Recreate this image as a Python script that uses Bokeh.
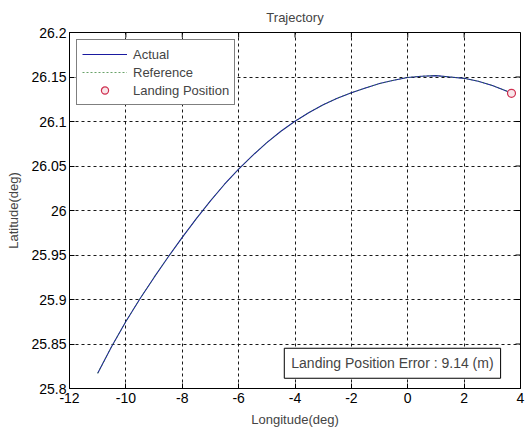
import math
from bokeh.plotting import figure
from bokeh.models import (Range1d, FixedTicker, Legend, LegendItem, Label, Title)
from bokeh.embed import file_html
from bokeh.resources import INLINE

# ---- data ----
actual_lon = [-11.0, -10.5, -10.0, -9.5, -9.0, -8.5, -8.0, -7.5, -7.0, -6.5, -6.0,
              -5.5, -5.0, -4.5, -4.0, -3.5, -3.0, -2.5, -2.0, -1.5, -1.0, -0.5,
              0.0, 0.5, 1.0, 1.5, 2.0, 2.5, 3.0, 3.5, 3.68]
actual_lat = [25.817, 25.8475, 25.8753, 25.9008, 25.9248, 25.9478, 25.9698, 25.9908,
              26.0108, 26.0295, 26.0465, 26.0620, 26.0763, 26.0890, 26.1003, 26.1102,
              26.1188, 26.1262, 26.1323, 26.1377, 26.1426, 26.1464, 26.1495, 26.1509,
              26.1515, 26.1500, 26.1485, 26.1453, 26.1405, 26.1343, 26.1317]
reference_lon = list(actual_lon)
reference_lat = list(actual_lat)
landing_lon = [3.68]
landing_lat = [26.1317]

x_ticks = [-12, -10, -8, -6, -4, -2, 0, 2, 4]
x_tick_labels = {-12: "-12", -10: "-10", -8: "-8", -6: "-6", -4: "-4", -2: "-2",
                 0: "0", 2: "2", 4: "4"}
y_ticks = [25.8, 25.85, 25.9, 25.95, 26.0, 26.05, 26.1, 26.15, 26.2]
y_tick_labels = {25.8: "25.8", 25.85: "25.85", 25.9: "25.9", 25.95: "25.95",
                 26.0: "26", 26.05: "26.05", 26.1: "26.1", 26.15: "26.15", 26.2: "26.2"}
error_text = "Landing Position Error : 9.14 (m)"

FONT = "Liberation Sans"

p = figure(width=527, height=430, output_backend="svg", toolbar_location=None,
           x_range=Range1d(x_ticks[0], x_ticks[-1]),
           y_range=Range1d(y_ticks[0], y_ticks[-1]),
           min_border_left=69, min_border_right=7, min_border_top=31,
           min_border_bottom=42)
p.background_fill_color = "white"
p.border_fill_color = "white"
p.outline_line_color = "black"
p.outline_line_width = 1

p.title = Title(text="Trajectory", align="center", text_font=FONT,
                text_font_size="13px", text_font_style="normal", offset=0,
                standoff=15)

for ax in p.xaxis + p.yaxis:
    ax.major_label_text_font = FONT
    ax.major_label_text_font_size = "14px"
    ax.axis_label_text_font = FONT
    ax.axis_label_text_font_size = "13px"
    ax.axis_label_text_font_style = "normal"
    ax.major_tick_in = 5
    ax.major_tick_out = 0
    ax.minor_tick_in = 0
    ax.minor_tick_out = 0
    ax.axis_line_color = "black"
    ax.major_tick_line_color = "black"
    ax.major_label_text_color = "black"

p.xaxis.ticker = FixedTicker(ticks=x_ticks)
p.yaxis.ticker = FixedTicker(ticks=y_ticks)
p.xaxis.major_label_overrides = x_tick_labels
p.yaxis.major_label_overrides = y_tick_labels
p.xaxis.axis_label = "Longitude(deg)"
p.yaxis.axis_label = "Latitude(deg)"
p.xaxis.major_label_standoff = 4
p.yaxis.major_label_standoff = 3
p.xaxis.axis_label_standoff = 6
p.yaxis.axis_label_standoff = 7

p.xgrid.ticker = FixedTicker(ticks=x_ticks)
p.ygrid.ticker = FixedTicker(ticks=y_ticks)
for g in (p.xgrid, p.ygrid):
    g.grid_line_color = "black"
    g.grid_line_dash = "3 3"
    g.grid_line_width = 1
    g.grid_line_alpha = 0.9

# inward tick marks on the top and right edges of the box
p.scatter(x_ticks, [y_ticks[-1]] * len(x_ticks), marker="dash", angle=math.pi / 2,
          size=10, line_color="black", line_width=1)
p.scatter([x_ticks[-1]] * len(y_ticks), y_ticks, marker="dash", angle=0,
          size=10, line_color="black", line_width=1)

r_act = p.line(actual_lon, actual_lat, line_color="#1a1aa0", line_width=1.1)
r_ref = p.line(reference_lon, reference_lat, line_color="#2a7a2a", line_width=1,
               line_dash="2 2", line_alpha=0.7)
r_land = p.scatter(landing_lon, landing_lat, marker="circle", size=8,
                   line_color="#d03050", fill_color="#f8e6ea", line_width=1.2)

legend = Legend(items=[LegendItem(label="Actual", renderers=[r_act]),
                       LegendItem(label="Reference", renderers=[r_ref]),
                       LegendItem(label="Landing Position", renderers=[r_land])],
                location="top_left", margin=7, padding=5, spacing=0,
                label_text_font=FONT, label_text_font_size="13px",
                label_height=18, glyph_height=18, glyph_width=45,
                label_standoff=6, border_line_color="black", border_line_width=1,
                background_fill_color="white", background_fill_alpha=1)
p.add_layout(legend)

lbl = Label(x=-4.38, y=25.8115, text=error_text, text_font=FONT,
            text_font_size="14px", border_line_color="black", border_line_width=1,
            background_fill_color="white", padding=7)
p.add_layout(lbl)

open("out.html", "w").write(file_html(p, INLINE))
